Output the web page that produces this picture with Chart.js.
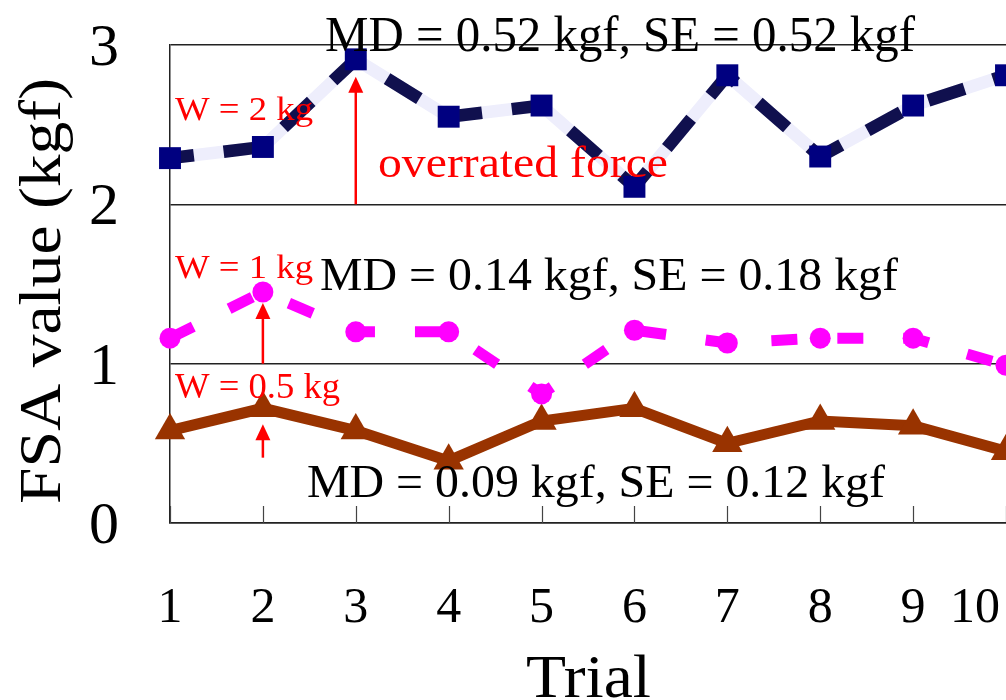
<!DOCTYPE html>
<html>
<head>
<meta charset="utf-8">
<script src="https://cdn.jsdelivr.net/npm/chart.js@4/dist/chart.umd.min.js"></script>
<style>
  html, body { margin: 0; padding: 0; background: #ffffff; overflow: hidden; }
  #wrap { width: 1006px; height: 700px; position: relative; }
  canvas { display: block; }
</style>
</head>
<body>
<div id="wrap"><canvas id="fsaChart" width="1006" height="700"></canvas></div>
<script>
// Trial numbers and axis tick labels
const trials = [1, 2, 3, 4, 5, 6, 7, 8, 9, 10];
const trialLabels = ['1', '2', '3', '4', '5', '6', '7', '8', '9', '10'];
const yTickValues = [0, 1, 2, 3];

// FSA readings (kgf) for each applied weight
const fsaW2kg  = [2.29, 2.36, 2.91, 2.55, 2.62, 2.11, 2.81, 2.30, 2.62, 2.81];
const fsaW1kg  = [1.16, 1.45, 1.20, 1.20, 0.81, 1.21, 1.13, 1.16, 1.16, 0.99];
const fsaW05kg = [0.58, 0.72, 0.58, 0.39, 0.64, 0.72, 0.50, 0.64, 0.61, 0.45];

// Annotation texts
const statTexts = ['MD = 0.52 kgf, SE = 0.52 kgf', 'MD = 0.14 kgf, SE = 0.18 kgf', 'MD = 0.09 kgf, SE = 0.12 kgf'];
const weightTexts = ['W = 2 kg', 'W = 1 kg', 'W = 0.5 kg'];
const overratedText = 'overrated force';
const xTitle = 'Trial';
const yTitle = 'FSA value (kgf)';

const SERIF = '"Liberation Serif", "Times New Roman", serif';

function toPoints(values) {
  return trials.map((t, i) => ({ x: t, y: values[i] }));
}

// Draw a string whose overall width is fitted to `width`
function fitText(ctx, text, x, y, size, width, color) {
  ctx.save();
  ctx.font = size + 'px ' + SERIF;
  const w = ctx.measureText(text).width;
  ctx.translate(x, y);
  ctx.scale(width / w, 1);
  ctx.fillStyle = color;
  ctx.textAlign = 'left';
  ctx.textBaseline = 'alphabetic';
  ctx.fillText(text, 0, 0);
  ctx.restore();
}

function upArrow(ctx, x, yBottom, yTip) {
  const head = 16, half = 7.5;
  ctx.save();
  ctx.strokeStyle = '#ff0000';
  ctx.fillStyle = '#ff0000';
  ctx.lineWidth = 2.5;
  ctx.beginPath();
  ctx.moveTo(x, yBottom);
  ctx.lineTo(x, yTip + head - 1);
  ctx.stroke();
  ctx.beginPath();
  ctx.moveTo(x, yTip);
  ctx.lineTo(x - half, yTip + head);
  ctx.lineTo(x + half, yTip + head);
  ctx.closePath();
  ctx.fill();
  ctx.restore();
}

// Inner tick marks on the trial axis
const innerTicks = {
  id: 'innerTicks',
  beforeDatasetsDraw(chart) {
    const { ctx, scales: { x, y } } = chart;
    const bottom = y.getPixelForValue(0);
    ctx.save();
    ctx.strokeStyle = '#444444';
    ctx.lineWidth = 1.2;
    trials.forEach(t => {
      const px = Math.round(x.getPixelForValue(t)) + 0.5;
      ctx.beginPath();
      ctx.moveTo(px, bottom);
      ctx.lineTo(px, bottom - 17);
      ctx.stroke();
    });
    ctx.restore();
  }
};

// Texts, arrows, tick labels and axis titles drawn above the series
const annotations = {
  id: 'annotations',
  afterDatasetsDraw(chart) {
    const { ctx, scales: { x, y }, width } = chart;

    // arrows: from the reference line up to the reading
    upArrow(ctx, x.getPixelForValue(3), y.getPixelForValue(2), y.getPixelForValue(2.8));
    upArrow(ctx, x.getPixelForValue(2), y.getPixelForValue(1), y.getPixelForValue(1.38));
    upArrow(ctx, x.getPixelForValue(2), y.getPixelForValue(0.41), y.getPixelForValue(0.62));

    // weight labels
    fitText(ctx, weightTexts[0], 175, 120, 34, 138, '#ff0000');
    fitText(ctx, weightTexts[1], 175, 278, 34, 138, '#ff0000');
    fitText(ctx, weightTexts[2], 175, 398, 35, 165, '#ff0000');
    fitText(ctx, overratedText, 378, 177, 44, 290, '#ff0000');

    // statistics
    fitText(ctx, statTexts[0], 325, 51, 50, 590, '#000000');
    fitText(ctx, statTexts[1], 320, 290, 47, 578, '#000000');
    fitText(ctx, statTexts[2], 307, 497, 47, 578, '#000000');

    // value tick labels
    ctx.save();
    ctx.font = '60px ' + SERIF;
    ctx.fillStyle = '#000000';
    ctx.textAlign = 'right';
    ctx.textBaseline = 'alphabetic';
    yTickValues.forEach(v => {
      ctx.fillText(String(v), 119, y.getPixelForValue(v) + 20);
    });
    ctx.restore();

    // trial tick labels
    ctx.save();
    ctx.font = '50px ' + SERIF;
    ctx.fillStyle = '#000000';
    ctx.textAlign = 'center';
    ctx.textBaseline = 'alphabetic';
    trials.forEach((t, i) => {
      const tw = ctx.measureText(trialLabels[i]).width;
      const px = Math.min(x.getPixelForValue(t), width - tw / 2 - 6);
      ctx.fillText(trialLabels[i], px, 622);
    });
    ctx.restore();

    // axis titles
    fitText(ctx, xTitle, 526, 697, 62, 125, '#000000');

    ctx.save();
    ctx.translate(60, 504);
    ctx.rotate(-Math.PI / 2);
    fitText(ctx, yTitle, 0, 0, 60, 426, '#000000');
    ctx.restore();
  }
};

new Chart(document.getElementById('fsaChart'), {
  type: 'line',
  data: {
    datasets: [
      {
        label: 'W = 2 kg',
        data: toPoints(fsaW2kg),
        borderColor: '#10104e',
        borderWidth: 12.5,
        borderDash: [38, 30],
        borderDashOffset: 14,
        pointStyle: 'rect',
        pointRadius: 15.5,
        pointBackgroundColor: '#000080',
        pointBorderColor: '#000080',
        pointBorderWidth: 0,
        order: 0,
        clip: false
      },
      {
        label: 'W = 2 kg base',
        data: toPoints(fsaW2kg),
        borderColor: '#eeeefc',
        borderWidth: 12.5,
        pointRadius: 0,
        order: 1,
        clip: false
      },
      {
        label: 'W = 1 kg',
        data: toPoints(fsaW1kg),
        borderColor: '#ff00ff',
        borderWidth: 11,
        borderDash: [26, 40],
        pointStyle: 'circle',
        pointRadius: 10.5,
        pointBackgroundColor: '#ff00ff',
        pointBorderColor: '#ff00ff',
        pointBorderWidth: 0,
        order: 2,
        clip: false
      },
      {
        label: 'W = 0.5 kg',
        data: toPoints(fsaW05kg),
        borderColor: '#993300',
        borderWidth: 11,
        pointStyle: 'triangle',
        pointRadius: 17.5,
        pointBackgroundColor: '#993300',
        pointBorderColor: '#993300',
        pointBorderWidth: 0,
        order: 3,
        clip: false
      }
    ]
  },
  options: {
    responsive: false,
    animation: false,
    devicePixelRatio: 1,
    layout: { autoPadding: false, padding: { top: 45, right: 0, bottom: 0, left: 0 } },
    plugins: { legend: { display: false }, tooltip: { enabled: false } },
    scales: {
      x: {
        type: 'linear',
        min: 1,
        max: 10,
        ticks: { display: false },
        grid: { display: false },
        border: { display: true, color: '#222222', width: 1.5 },
        afterFit(scale) { scale.height = 177; }
      },
      y: {
        type: 'linear',
        min: 0,
        max: 3,
        afterBuildTicks(scale) { scale.ticks = yTickValues.map(v => ({ value: v })); },
        ticks: { display: false },
        grid: { color: '#222222', lineWidth: 1.5, drawTicks: false },
        border: { display: true, color: '#222222', width: 1.5 },
        afterFit(scale) { scale.width = 170; }
      }
    }
  },
  plugins: [innerTicks, annotations]
});
</script>
</body>
</html>
